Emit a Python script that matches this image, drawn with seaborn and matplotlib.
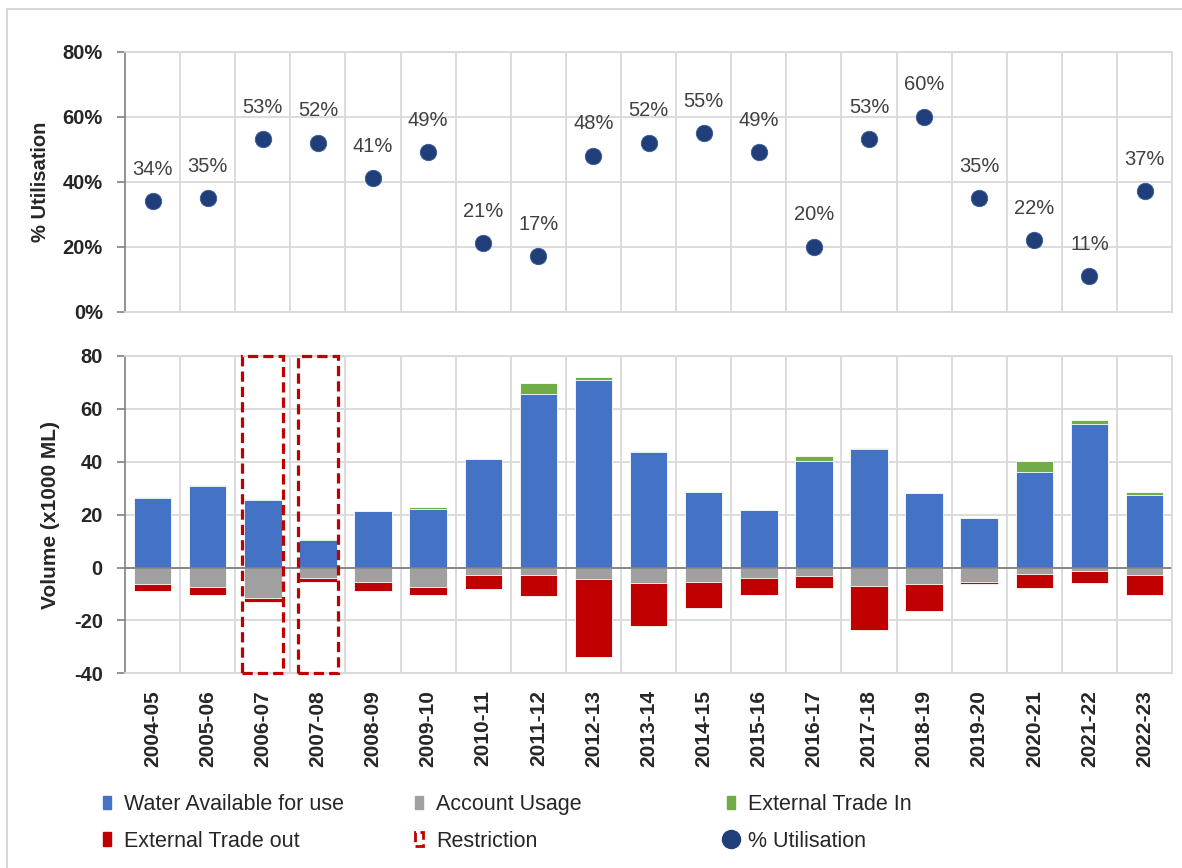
import numpy as np
import pandas as pd
import matplotlib
matplotlib.use("Agg")
import matplotlib.pyplot as plt
import seaborn as sns
from matplotlib.patches import Rectangle, Patch
from matplotlib.lines import Line2D

# Values
years = ['2004-05', '2005-06', '2006-07', '2007-08', '2008-09', '2009-10', '2010-11',
         '2011-12', '2012-13', '2013-14', '2014-15', '2015-16', '2016-17', '2017-18',
         '2018-19', '2019-20', '2020-21', '2021-22', '2022-23']
util_pct = [34, 35, 53, 52, 41, 49, 21, 17, 48, 52, 55, 49, 20, 53, 60, 35, 22, 11, 37]
water_avail = [26.2, 30.7, 25.6, 10.4, 21.4, 22.2, 41.2, 65.5, 70.8, 43.6, 28.5, 21.6,
               40.2, 44.7, 28.0, 18.8, 36.0, 54.2, 27.5]
trade_in = [0.4, 0.4, 0.4, 0.4, 0.0, 0.7, 0.0, 4.1, 1.1, 0.6, 0.0, 0.3,
            1.9, 0.4, 0.0, 0.0, 4.1, 1.6, 1.0]
account_usage = [6.3, 7.2, 11.4, 3.8, 5.3, 7.2, 2.8, 2.8, 4.3, 5.8, 5.3, 3.8,
                 3.3, 6.8, 6.3, 5.6, 2.3, 1.3, 2.8]
trade_out = [2.4, 3.0, 1.6, 1.5, 3.4, 3.0, 5.4, 8.1, 29.7, 16.5, 10.1, 6.6,
             4.5, 16.7, 10.0, 0.7, 5.5, 4.4, 7.6]
restricted = ['2006-07', '2007-08']

BLUE = '#4472C4'
GRAY = '#A0A0A0'
GREEN = '#70AD47'
RED = '#C00000'
NAVY = '#1F3E7A'
GRID = '#D9D9D9'
SPINE = '#808080'

sns.set_style('white')
plt.rcParams['font.family'] = ['Liberation Sans', 'DejaVu Sans']
plt.rcParams['axes.unicode_minus'] = False

df = pd.DataFrame({'year': years, 'avail': water_avail, 'tin': trade_in,
                   'usage': account_usage, 'tout': trade_out, 'util': util_pct})
df['pos_total'] = df['avail'] + df['tin']
df['usage_neg'] = -df['usage']
df['neg_total'] = -(df['usage'] + df['tout'])

fig = plt.figure(figsize=(11.82, 8.68), dpi=100)
ax1 = fig.add_axes([0.1058, 0.6409, 0.8858, 0.2995])
ax2 = fig.add_axes([0.1058, 0.2243, 0.8858, 0.3656])

# outer border
fig.patches.append(Rectangle((0.006, -0.01), 1.0, 0.9996, transform=fig.transFigure,
                             fill=False, edgecolor='#CFCFCF', lw=1.2))


def style_axes(ax):
    ax.set_xlim(-0.5, len(years) - 0.5)
    ax.set_axisbelow(True)
    ax.set_xticks(np.arange(0.5, len(years) - 1, 1), minor=True)
    ax.grid(which='minor', axis='x', color=GRID, lw=1.3)
    ax.grid(which='major', axis='y', color=GRID, lw=1.3)
    ax.grid(which='major', axis='x', visible=False)
    for side in ['top', 'right', 'bottom']:
        ax.spines[side].set_color(GRID)
        ax.spines[side].set_linewidth(1.3)
    ax.spines['left'].set_color(SPINE)
    ax.spines['left'].set_linewidth(1.2)
    ax.tick_params(axis='y', direction='out', length=6, width=1.2, color=SPINE,
                   pad=10, labelsize=14.5, left=True)
    ax.tick_params(axis='x', which='both', length=0)
    for lab in ax.get_yticklabels():
        lab.set_fontweight('bold')


# top: % utilisation
sns.scatterplot(data=df, x='year', y='util', ax=ax1, s=140, color=NAVY,
                edgecolor='#3B5A95', linewidth=0.6, zorder=3)
ax1.set_ylim(0, 80)
ax1.set_yticks([0, 20, 40, 60, 80])
ax1.set_yticklabels([f'{v}%' for v in [0, 20, 40, 60, 80]])
for i, v in enumerate(util_pct):
    ax1.annotate(f'{v}%', (i, v), xytext=(0, 19), textcoords='offset points',
                 ha='center', va='baseline', fontsize=14.5, color='#404040')
style_axes(ax1)
ax1.tick_params(axis='x', labelbottom=False)
ax1.set_xlabel('')
ax1.set_ylabel('% Utilisation', fontsize=14.5, fontweight='bold')
ax1.yaxis.set_label_coords(-0.0716, 0.5)

# bottom: volumes, stacked by overlaying cumulative bars
bar_kw = dict(width=0.68, saturation=1, errorbar=None, edgecolor='white', linewidth=0.6, ax=ax2)
sns.barplot(data=df, x='year', y='pos_total', color=GREEN, **bar_kw)
sns.barplot(data=df, x='year', y='avail', color=BLUE, **bar_kw)
sns.barplot(data=df, x='year', y='neg_total', color=RED, **bar_kw)
sns.barplot(data=df, x='year', y='usage_neg', color=GRAY, **bar_kw)
ax2.axhline(0, color=SPINE, lw=1.3, zorder=2)
ax2.set_ylim(-40, 80)
ax2.set_yticks([-40, -20, 0, 20, 40, 60, 80])
style_axes(ax2)
ax2.tick_params(axis='x', labelsize=15, pad=12)
plt.setp(ax2.get_xticklabels(), rotation=90, fontweight='bold')
ax2.set_xlabel('')
ax2.set_ylabel('Volume (x1000 ML)', fontsize=15, fontweight='bold')
ax2.yaxis.set_label_coords(-0.062, 0.5)

for yr in restricted:
    idx = years.index(yr)
    ax2.add_patch(Rectangle((idx - 0.37, -40), 0.74, 120, fill=False, edgecolor=RED,
                            lw=2.3, linestyle=(0, (3.2, 1.6)), clip_on=False, zorder=5))

# legend, three columns placed separately
leg_kw = dict(loc='upper left', frameon=False, fontsize=15.5, borderpad=0,
              handlelength=0.4, handleheight=0.6, handletextpad=0.6, labelspacing=0.72)
col1 = [Patch(color=BLUE), Patch(color=RED)]
col2 = [Patch(color=GRAY), Patch(facecolor='none', edgecolor=RED, lw=2, linestyle='--')]
col3 = [Patch(color=GREEN), Line2D([], [], marker='o', ls='', color=NAVY, markersize=13)]
fig.legend(col1, ['Water Available for use', 'External Trade out'],
           bbox_to_anchor=(0.0778, 0.0975), **leg_kw)
fig.legend(col2, ['Account Usage', 'Restriction'],
           bbox_to_anchor=(0.3418, 0.0975), **leg_kw)
fig.legend(col3, ['External Trade In', '% Utilisation'],
           bbox_to_anchor=(0.6058, 0.0975), **leg_kw)

fig.savefig('out.png', dpi=100)
